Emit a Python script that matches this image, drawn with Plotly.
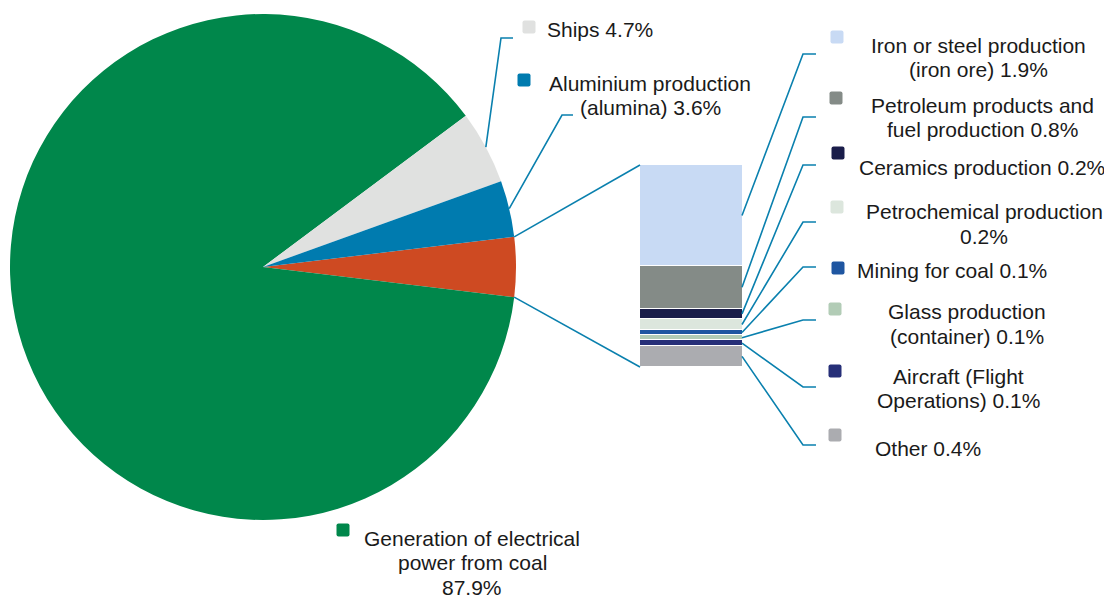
import math
import plotly.graph_objects as go

W, H = 1112, 599          # browser window
OFF = 8                   # default page margin around the plot div
FW, FH = W - OFF, H - OFF  # figure size so that it fits the window

# ---------------- data ----------------
pie_categories = ["Generation of electrical power from coal", "Ships", "Aluminium production (alumina)"]
pie_values = [87.9, 4.7, 3.6]
pie_colors = ["#00874B", "#E0E1E0", "#007BAF"]
other_color = "#CE4A22"

bar_categories = [
    "Iron or steel production (iron ore)",
    "Petroleum products and fuel production",
    "Ceramics production",
    "Petrochemical production",
    "Mining for coal",
    "Glass production (container)",
    "Aircraft (Flight Operations)",
    "Other",
]
bar_values = [1.9, 0.8, 0.2, 0.2, 0.1, 0.1, 0.1, 0.4]
bar_colors = ["#C8DAF4", "#848B87", "#1A1D4A", "#DCE6DD", "#1F56A1", "#B2CCB6", "#262F78", "#ABACB0"]

# display text (line breaks as in the original)
pie_label_lines = [
    ["Generation of electrical", "power from coal", "{v}%"],
    ["Ships {v}%"],
    ["Aluminium production", "(alumina) {v}%"],
]
bar_label_lines = [
    ["Iron or steel production", "(iron ore) {v}%"],
    ["Petroleum products and", "fuel production {v}%"],
    ["Ceramics production {v}%"],
    ["Petrochemical production", "{v}%"],
    ["Mining for coal {v}%"],
    ["Glass production", "(container) {v}%"],
    ["Aircraft (Flight", "Operations) {v}%"],
    ["Other {v}%"],
]

# ---------------- layout constants (window pixels) ----------------
CX, CY, R = 263, 267, 253          # pie centre / radius
BX0, BX1, BTOP, BBOT = 640, 743, 165, 367   # stacked column box
LINE_COLOR = "#0A80AE"
TEXT_COLOR = "#1A1A1A"
FONT = "Liberation Sans, Arial, sans-serif"
FS = 21
LS = 24.8
SQ = 13

# label placement: (square x, square y, text centre x, first line y)
pie_label_pos = [(343, 530, 472, 538), (529, 27, 600, 30), (524, 80, 650, 83)]
pie_leader_elbow = [None, (501, 38, 513), (562, 115, 573)]
bar_label_pos = [
    (837, 37, 978, 45),
    (836, 98, 982, 105),
    (838, 153, 982, 167),
    (837, 207, 984, 212),
    (838, 268, 952, 270),
    (835, 309, 967, 312),
    (835, 371, 958, 376),
    (835, 435, 928, 448),
]
bar_elbow_y = [54, 117, 165, 222, 267, 320, 387, 445]
BAR_ELBOW_X, BAR_LEADER_END = 803, 816


def px(x, y):
    """window pixel -> paper coordinates"""
    return (x - OFF) / FW, 1 - (y - OFF) / FH


other_total = round(sum(bar_values), 1)
all_pie_values = [other_total] + pie_values
all_pie_colors = [other_color] + pie_colors
rotation = 90 - other_total * 3.6 / 2

fig = go.Figure()

px0, py1 = px(CX - R, CY + R)
px1, py0 = px(CX + R, CY - R)
fig.add_trace(go.Pie(
    values=all_pie_values,
    labels=["Other sources"] + pie_categories,
    marker=dict(colors=all_pie_colors, line=dict(width=0)),
    sort=False,
    direction="clockwise",
    rotation=rotation,
    textinfo="none",
    hoverinfo="label+value",
    showlegend=False,
    domain=dict(x=[px0, px1], y=[py1, py0]),
))

# stacked column (bottom first)
for name, v, c in reversed(list(zip(bar_categories, bar_values, bar_colors))):
    fig.add_trace(go.Bar(
        x=["Other sources"], y=[v], name=name,
        marker=dict(color=c, line=dict(color="white", width=1.5)),
        showlegend=False, hoverinfo="name+y",
    ))

shapes = []
annotations = []


def line(points, color=LINE_COLOR, width=1.6):
    path = "M " + " L ".join(f"{px(x, y)[0]:.6f},{px(x, y)[1]:.6f}" for x, y in points)
    shapes.append(dict(type="path", path=path, xref="paper", yref="paper",
                       line=dict(color=color, width=width), fillcolor="rgba(0,0,0,0)"))


def square(x, y, color, r=2.0):
    h = SQ / 2
    pts = []
    # rounded square path
    seq = [
        ("M", x - h + r, y - h), ("L", x + h - r, y - h), ("Q", x + h, y - h, x + h, y - h + r),
        ("L", x + h, y + h - r), ("Q", x + h, y + h, x + h - r, y + h),
        ("L", x - h + r, y + h), ("Q", x - h, y + h, x - h, y + h - r),
        ("L", x - h, y - h + r), ("Q", x - h, y - h, x - h + r, y - h),
    ]
    for item in seq:
        cmd, coords = item[0], item[1:]
        p = []
        for k in range(0, len(coords), 2):
            a, b = px(coords[k], coords[k + 1])
            p.append(f"{a:.6f},{b:.6f}")
        pts.append(cmd + " " + " ".join(p))
    shapes.append(dict(type="path", path=" ".join(pts) + " Z", xref="paper", yref="paper",
                       line=dict(width=0), fillcolor=color))


def text_block(lines, v, x, y):
    for i, t in enumerate(lines):
        xx, yy = px(x, y + i * LS)
        annotations.append(dict(text=t.format(v=v), x=xx, y=yy, xref="paper", yref="paper",
                                xanchor="center", yanchor="middle", showarrow=False,
                                font=dict(family=FONT, size=FS, color=TEXT_COLOR)))


def pie_point(angle_deg, r=R):
    a = math.radians(angle_deg)
    return CX + r * math.sin(a), CY - r * math.cos(a)


# connector lines between the pie slice and the column
a0 = rotation
a1 = rotation + other_total * 3.6
line([pie_point(a0), (BX0, BTOP)])
line([pie_point(a1), (BX0, BBOT)])

# pie labels
ang = a1
for i, v in enumerate(pie_values):
    span = v * 3.6
    mid = ang + span / 2
    ang += span
    sx, sy, tx, ty = pie_label_pos[i]
    square(sx, sy, pie_colors[i])
    text_block(pie_label_lines[i], v, tx, ty)
    if pie_leader_elbow[i] is not None:
        ex, ey, endx = pie_leader_elbow[i]
        line([pie_point(mid), (ex, ey), (endx, ey)])

# column labels
scale = (BBOT - BTOP) / other_total
top_cum = 0.0
for i, v in enumerate(bar_values):
    mid_y = BTOP + (top_cum + v / 2) * scale
    top_cum += v
    sx, sy, tx, ty = bar_label_pos[i]
    square(sx, sy, bar_colors[i])
    text_block(bar_label_lines[i], v, tx, ty)
    line([(BX1 - 1, mid_y), (BAR_ELBOW_X, bar_elbow_y[i]), (BAR_LEADER_END, bar_elbow_y[i])])

bx0, by1 = px(BX0, BBOT)
bx1, by0 = px(BX1, BTOP)
fig.update_layout(
    width=FW, height=FH,
    margin=dict(l=0, r=0, t=0, b=0),
    paper_bgcolor="white", plot_bgcolor="rgba(0,0,0,0)",
    barmode="stack", bargap=0,
    xaxis=dict(domain=[bx0, bx1], visible=False, range=[-0.5, 0.5], fixedrange=True),
    yaxis=dict(domain=[by1, by0], visible=False, range=[0, other_total], fixedrange=True),
    shapes=shapes,
    annotations=annotations,
    showlegend=False,
)

fig.write_html("out.html")
